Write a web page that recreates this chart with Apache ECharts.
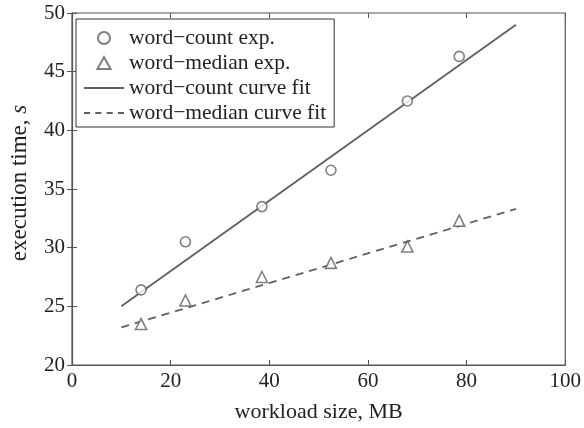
<!DOCTYPE html>
<html>
<head>
<meta charset="utf-8">
<script src="https://cdn.jsdelivr.net/npm/echarts@6/dist/echarts.min.js"></script>
<style>
  html, body { margin: 0; padding: 0; background: #fff; }
  #chart { width: 584px; height: 428px; }
</style>
</head>
<body>
<div id="chart"></div>
<script>
// Measured workload sizes (MB) and execution times (s)
const workloadSizes = [14, 23, 38.5, 52.5, 68, 78.5];
const wordCountTimes = [26.4, 30.5, 33.5, 36.6, 42.5, 46.3];
const wordMedianTimes = [23.5, 25.5, 27.5, 28.7, 30.1, 32.3];

// Linear fit end points
const fitX = [10, 90];
const wordCountFit = [25.0, 49.0];
const wordMedianFit = [23.2, 33.3];

const seriesNames = [
  'word\u2212count exp.',
  'word\u2212median exp.',
  'word\u2212count curve fit',
  'word\u2212median curve fit'
];

const pairs = (xs, ys) => xs.map((x, i) => [x, ys[i]]);

const ink = '#5f5f5f';
const axisInk = '#555';
const textInk = '#222';
const font = 'Liberation Serif';

// Legend glyphs: hollow triangle, solid stroke, dashed stroke
const triangleIcon = 'path://M5,0 L10,9 L0,9 Z';
const solidIcon = 'path://M0,0 H40 V2 H0 Z';
const dashedIcon = 'path://M0,0 H6 V2 H0 Z M11.3,0 H17.3 V2 H11.3 Z M22.7,0 H28.7 V2 H22.7 Z M34,0 H40 V2 H34 Z';

const chart = echarts.init(document.getElementById('chart'), null, { renderer: 'canvas' });

const tickStyle = { show: true, inside: true, length: 5, lineStyle: { color: axisInk, width: 1 } };

const mirrorAxis = {
  axisLabel: { show: false },
  axisLine: { show: false },
  splitLine: { show: false },
  axisTick: tickStyle
};

chart.setOption({
  animation: false,
  backgroundColor: '#fff',
  grid: {
    left: 70, right: 17, top: 13, bottom: 62,
    show: true, borderColor: axisInk, borderWidth: 1.2, backgroundColor: 'transparent'
  },
  legend: {
    orient: 'vertical',
    left: 76, top: 19,
    padding: [8, 8, 3, 8],
    borderColor: '#333', borderWidth: 1,
    backgroundColor: '#fff',
    itemWidth: 40, itemHeight: 12, itemGap: 3,
    textStyle: { fontFamily: font, fontSize: 21.5, color: textInk },
    data: [
      { name: seriesNames[0] },
      { name: seriesNames[1], icon: triangleIcon },
      { name: seriesNames[2], icon: solidIcon, itemStyle: { color: ink, borderWidth: 0 } },
      { name: seriesNames[3], icon: dashedIcon, itemStyle: { color: ink, borderWidth: 0 } }
    ]
  },
  xAxis: [{
    type: 'value', min: 0, max: 100, interval: 20,
    name: 'workload size, MB', nameLocation: 'middle', nameGap: 36,
    nameTextStyle: { fontFamily: font, fontSize: 22, color: textInk },
    axisLine: { show: true, lineStyle: { color: axisInk, width: 1.2 } },
    axisTick: tickStyle,
    axisLabel: { fontFamily: font, fontSize: 21, color: textInk, margin: 6 },
    splitLine: { show: false }
  }, Object.assign({ type: 'value', position: 'top', min: 0, max: 100, interval: 20 }, mirrorAxis)],
  yAxis: [{
    type: 'value', min: 20, max: 50, interval: 5,
    name: '{n|execution time, }{i|s}', nameLocation: 'middle', nameGap: 41,
    nameTextStyle: {
      padding: [0, 0, 0, 12],
      rich: {
        n: { fontFamily: font, fontSize: 23, color: textInk },
        i: { fontFamily: font, fontSize: 23, fontStyle: 'italic', color: textInk }
      }
    },
    axisLine: { show: true, lineStyle: { color: axisInk, width: 1.2 } },
    axisTick: tickStyle,
    axisLabel: { fontFamily: font, fontSize: 21, color: textInk, margin: 7 },
    splitLine: { show: false }
  }, Object.assign({ type: 'value', position: 'right', min: 20, max: 50, interval: 5 }, mirrorAxis)],
  series: [
    {
      name: seriesNames[0], type: 'scatter',
      data: pairs(workloadSizes, wordCountTimes),
      symbol: 'circle', symbolSize: 10,
      itemStyle: { color: '#fff', borderColor: ink, borderWidth: 1.6 },
      z: 3
    },
    {
      name: seriesNames[1], type: 'scatter',
      data: pairs(workloadSizes, wordMedianTimes),
      symbol: 'triangle', symbolSize: 11,
      itemStyle: { color: '#fff', borderColor: ink, borderWidth: 1.6 },
      z: 3
    },
    {
      name: seriesNames[2], type: 'line',
      data: pairs(fitX, wordCountFit),
      symbol: 'none', showSymbol: false,
      lineStyle: { color: ink, width: 1.8, type: 'solid' },
      itemStyle: { color: ink },
      z: 2
    },
    {
      name: seriesNames[3], type: 'line',
      data: pairs(fitX, wordMedianFit),
      symbol: 'none', showSymbol: false,
      lineStyle: { color: ink, width: 1.8, type: [8, 6] },
      itemStyle: { color: ink },
      z: 2
    }
  ]
});
</script>
</body>
</html>
